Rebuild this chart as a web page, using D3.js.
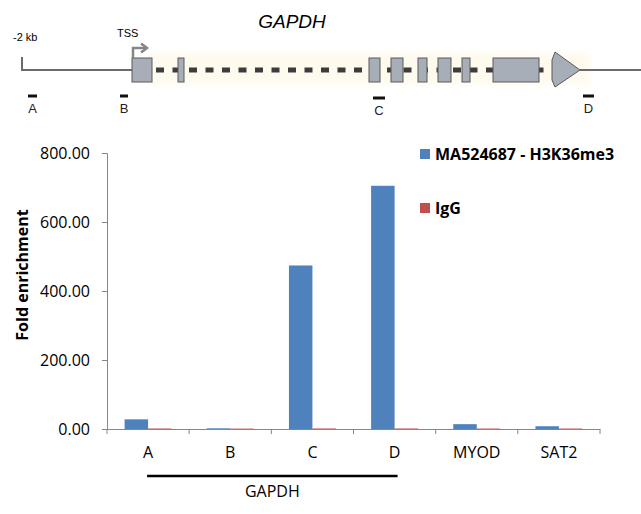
<!DOCTYPE html>
<html><head><meta charset="utf-8">
<script src="https://cdn.jsdelivr.net/npm/d3@7"></script>
<style>body{margin:0;background:#fff} svg{display:block}</style>
</head><body>
<script>
// ---- chart data ----
const categories = ["A", "B", "C", "D", "MYOD", "SAT2"];
const seriesNames = ["MA524687 - H3K36me3", "IgG"];
const h3k36me3 = [28, 2, 474, 705, 14, 8];
const igg = [1.5, 1.2, 1.5, 1.5, 1.3, 1.3];
const yTicks = [0, 200, 400, 600, 800];
const groupLabel = "GAPDH";
const groupMembers = ["A", "B", "C", "D"];
const seriesColors = ["#4F81BD", "#C0504D"];

// ---- gene diagram data (diagram units along the locus, -2 kb = 0) ----
const geneName = "GAPDH";
const exons = [[110,130],[156,162],[347,358],[369,381],[396,405],[416,429],[440,448],[471,517]];
const lastExon = [530, 558];
const locusEnd = 619;
const tss = 110;
const primers = [{name:"A", s:6, e:15}, {name:"B", s:98, e:106}, {name:"C", s:351, e:363}, {name:"D", s:561, e:572}];

const W = 641, H = 514;
const svg = d3.select("body").append("svg").attr("width", W).attr("height", H)
  .style("font-family", "'Open Sans', sans-serif");

// ---------- gene diagram ----------
const g = d3.scaleLinear().domain([0, locusEnd]).range([22, 641]);
const lineY = 70;
const defs = svg.append("defs");
defs.append("filter").attr("id", "blur").attr("x", "-10%").attr("y", "-50%").attr("width", "120%").attr("height", "200%")
  .append("feGaussianBlur").attr("stdDeviation", 3);
svg.append("rect").attr("x", g(tss) + 16).attr("y", 53).attr("width", g(lastExon[1]) - g(tss) - 6)
  .attr("height", 31).attr("fill", "#FFFAEE").attr("filter", "url(#blur)");

svg.append("text").attr("x", 292).attr("y", 28)
  .attr("text-anchor", "middle").attr("font-family", "'Liberation Sans', Arial, sans-serif")
  .attr("font-style", "italic").attr("font-size", 19).text(geneName);

// upstream line with -2 kb tick
svg.append("path").attr("d", `M${g(0)},${lineY - 13}V${lineY}H${g(tss)}`)
  .attr("fill", "none").attr("stroke", "#6b6b6b").attr("stroke-width", 2);
svg.append("text").attr("x", 13).attr("y", 41).attr("font-family", "'Liberation Sans', Arial, sans-serif")
  .attr("font-size", 11).text("-2 kb");
// intron dashes
svg.append("line").attr("x1", g(exons[0][1])).attr("x2", g(lastExon[0])).attr("y1", lineY).attr("y2", lineY)
  .attr("stroke", "#3c3c3c").attr("stroke-width", 5).attr("stroke-dasharray", "8,8.5").attr("stroke-dashoffset", -4);
// downstream line
svg.append("line").attr("x1", g(lastExon[1])).attr("x2", g(locusEnd)).attr("y1", lineY).attr("y2", lineY)
  .attr("stroke", "#6b6b6b").attr("stroke-width", 2);
// exons
svg.selectAll("rect.exon").data(exons).join("rect").attr("class", "exon")
  .attr("x", d => g(d[0])).attr("width", d => g(d[1]) - g(d[0])).attr("y", 58).attr("height", 24)
  .attr("fill", "#A7AEB7").attr("stroke", "#5a5a5a").attr("stroke-width", 1);
// last exon arrow
const lx0 = g(lastExon[0]), lx1 = g(lastExon[1]);
svg.append("path").attr("d", `M${lx0},${60}L${lx0 + 3},${52}L${lx1},${lineY}L${lx0 + 3},${87}L${lx0},${80}Z`)
  .attr("fill", "#A7AEB7").attr("stroke", "#5a5a5a").attr("stroke-width", 1);
// TSS arrow
const tx = g(tss);
svg.append("path").attr("d", `M${tx + 1},58V48H${tx + 14}`).attr("fill", "none").attr("stroke", "#858585").attr("stroke-width", 2.5);
svg.append("path").attr("d", `M${tx + 9},43.5L${tx + 15},48L${tx + 9},52.5`).attr("fill", "none").attr("stroke", "#858585").attr("stroke-width", 2.5);
svg.append("text").attr("x", tx - 15).attr("y", 37).attr("font-family", "'Liberation Sans', Arial, sans-serif")
  .attr("font-size", 11).text("TSS");
// primers
const pr = svg.selectAll("g.primer").data(primers).join("g").attr("class", "primer");
pr.append("line").attr("x1", d => g(d.s)).attr("x2", d => g(d.e))
  .attr("y1", d => d.name === "C" ? 98 : 96).attr("y2", d => d.name === "C" ? 98 : 96)
  .attr("stroke", "#111").attr("stroke-width", 3);
pr.append("text").attr("x", d => (g(d.s) + g(d.e)) / 2).attr("y", d => d.name === "C" ? 115 : 113)
  .attr("text-anchor", "middle").attr("font-family", "'Liberation Sans', Arial, sans-serif")
  .attr("font-size", 13).attr("fill", "#222").text(d => d.name);

// ---------- bar chart ----------
const x = d3.scaleBand().domain(categories).range([107, 600]).paddingInner(0).paddingOuter(0);
const xs = d3.scaleBand().domain(seriesNames).range([0, x.bandwidth()]).paddingInner(0).paddingOuter(0.75);
const y = d3.scaleLinear().domain([0, 800]).range([429, 153]);
const axisColor = "#868686";

const data = categories.map((c, i) => ({cat: c, vals: [h3k36me3[i], igg[i]]}));
const grp = svg.selectAll("g.cat").data(data).join("g").attr("class", "cat")
  .attr("transform", d => `translate(${x(d.cat)},0)`);
grp.selectAll("rect").data(d => d.vals.map((v, j) => ({s: seriesNames[j], v, j}))).join("rect")
  .attr("x", d => xs(d.s)).attr("width", xs.bandwidth())
  .attr("y", d => y(d.v)).attr("height", d => y(0) - y(d.v))
  .attr("fill", d => seriesColors[d.j]);

// y axis
const ya = svg.append("g").attr("transform", "translate(107,0)")
  .call(d3.axisLeft(y).tickValues(yTicks).tickFormat(d3.format(".2f")).tickSize(5).tickPadding(12));
ya.select(".domain").attr("stroke", axisColor);
ya.selectAll(".tick line").attr("stroke", axisColor);
ya.selectAll("text").attr("font-size", 16).attr("fill", "#000").attr("font-family", "'Open Sans', sans-serif");

// x axis
const xa = svg.append("g").attr("transform", `translate(0,${y(0)})`)
  .call(d3.axisBottom(x).tickSize(0).tickPadding(18));
xa.select(".domain").attr("stroke", axisColor);
xa.selectAll("text").attr("font-size", 16).attr("fill", "#000").attr("font-family", "'Open Sans', sans-serif");
const bounds = categories.map(c => x(c)).concat([x.range()[1]]);
svg.selectAll("line.xt").data(bounds).join("line").attr("class", "xt")
  .attr("x1", d => d).attr("x2", d => d).attr("y1", y(0)).attr("y2", y(0) + 5)
  .attr("stroke", axisColor);

// group bracket
const gx0 = x(groupMembers[0]) + x.bandwidth() / 2 - 1;
const gx1 = x(groupMembers[groupMembers.length - 1]) + x.bandwidth() / 2 + 3;
svg.append("line").attr("x1", gx0).attr("x2", gx1).attr("y1", 476).attr("y2", 476)
  .attr("stroke", "#000").attr("stroke-width", 2.5);
svg.append("text").attr("x", (gx0 + gx1) / 2).attr("y", 497).attr("text-anchor", "middle")
  .attr("font-size", 16).text(groupLabel);

// y title
svg.append("text").attr("transform", "translate(28,275) rotate(-90)").attr("text-anchor", "middle")
  .attr("font-size", 16).attr("font-weight", "bold").text("Fold enrichment");

// legend
const lg = svg.selectAll("g.lg").data(seriesNames).join("g").attr("class", "lg")
  .attr("transform", (d, i) => `translate(420,${149 + i * 54})`);
lg.append("rect").attr("width", 10).attr("height", 10).attr("fill", (d, i) => seriesColors[i]);
lg.append("text").attr("x", 15).attr("y", 11).attr("font-size", 16).attr("font-weight", "bold").text(d => d);
</script>
</body></html>
